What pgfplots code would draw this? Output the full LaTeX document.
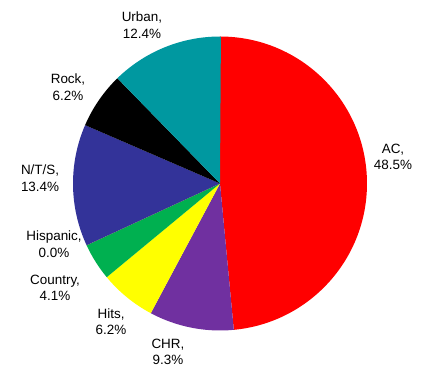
\documentclass[border=0pt]{standalone}
\usepackage{fontspec}
\setmainfont{Liberation Sans}
\usepackage{pgfplots}
\usepackage{pgfplotstable}
\pgfplotsset{compat=1.18}

\definecolor{acred}{RGB}{255,0,0}
\definecolor{chrpurple}{RGB}{112,48,160}
\definecolor{hitsyellow}{RGB}{255,255,0}
\definecolor{countrygreen}{RGB}{0,176,80}
\definecolor{hispanicorange}{RGB}{255,192,0}
\definecolor{ntsblue}{RGB}{51,51,153}
\definecolor{rockblack}{RGB}{0,0,0}
\definecolor{urbanteal}{RGB}{0,152,160}

% format shares (percent), slice colour, label position (axis units)
\pgfplotstableread{
label     value  color           lx      ly
AC        48.5   acred           1.177   0.180
CHR       9.3    chrpurple      -0.354  -1.146
Hits      6.2    hitsyellow     -0.741  -0.942
Country   4.1    countrygreen   -1.122  -0.711
Hispanic  0.0    hispanicorange -1.129  -0.412
N/T/S     13.4   ntsblue        -1.224   0.037
Rock      6.2    rockblack      -1.034   0.656
Urban     12.4   urbanteal      -0.531   1.078
}\sharetable

\begin{document}
\begin{tikzpicture}
\begin{axis}[
  x=147bp, y=147bp,
  disabledatascaling,
  xmin=-1.4966, xmax=1.3946,
  ymin=-1.2755, ymax=1.2483,
  hide axis, clip=false,
]
\path (rel axis cs:0,0) rectangle (rel axis cs:1,1);
\pgfplotstablegetrowsof{\sharetable}
\pgfmathtruncatemacro\nlast{\pgfplotsretval-1}
\def\angA{90}
\pgfplotsforeachungrouped \i in {0,...,\nlast}{%
  \pgfplotstablegetelem{\i}{value}\of\sharetable \let\v\pgfplotsretval
  \pgfplotstablegetelem{\i}{color}\of\sharetable \let\c\pgfplotsretval
  \pgfplotstablegetelem{\i}{label}\of\sharetable \let\lab\pgfplotsretval
  \pgfplotstablegetelem{\i}{lx}\of\sharetable \let\lx\pgfplotsretval
  \pgfplotstablegetelem{\i}{ly}\of\sharetable \let\ly\pgfplotsretval
  \pgfmathsetmacro\angB{\angA-3.6*\v}
  \edef\temp{%
    \noexpand\fill[\c] (axis cs:0,0) -- (axis cs:{cos(\angA)},{sin(\angA)})
      arc[start angle=\angA, end angle=\angB, radius=147bp] -- cycle;
    \noexpand\node[align=center, font=\noexpand\fontsize{13.5}{16.5}\noexpand\selectfont, inner sep=0pt]
      at (axis cs:\lx,\ly) {\lab,\noexpand\\\v\noexpand\%};
  }%
  \temp
  \let\angA\angB
}
\end{axis}
\end{tikzpicture}
\end{document}
